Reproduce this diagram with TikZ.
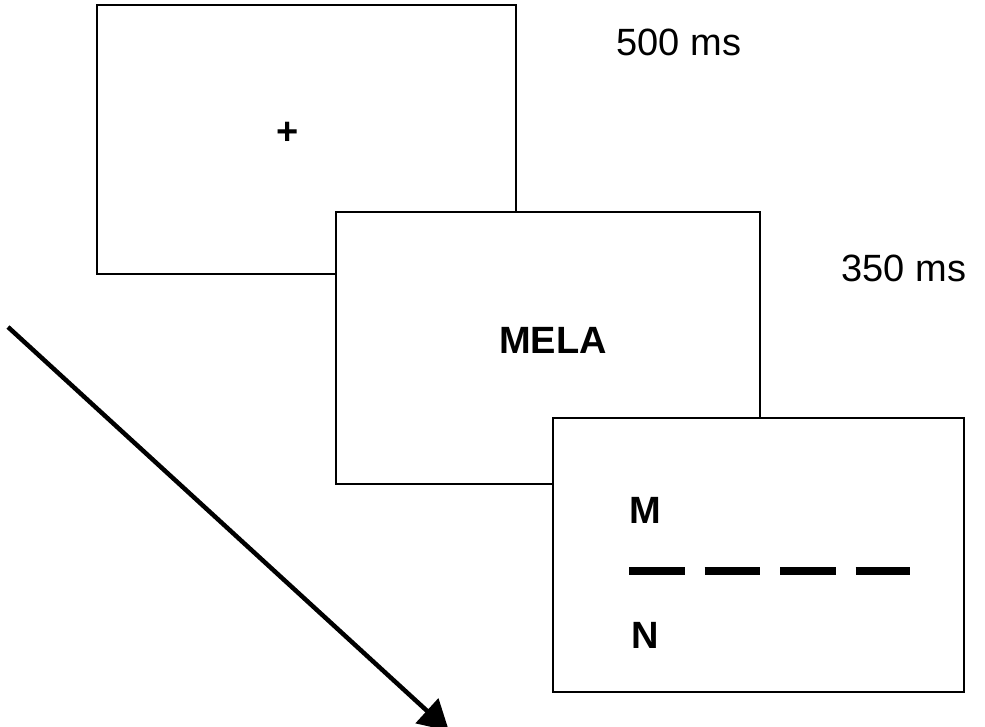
\documentclass[tikz,border=0pt]{standalone}
\usepackage{fontspec}
\setmainfont{Liberation Sans}
\usetikzlibrary{arrows.meta}
\tikzset{%
  screen/.style={draw=black, fill=white, line width=2.2pt, inner sep=0pt},
  label/.style={font=\fontsize{38}{40}\selectfont, inner sep=0pt},
  boldlabel/.style={font=\fontsize{38}{40}\selectfont\bfseries, inner sep=0pt},
  timeline/.style={-{Triangle[length=30pt,width=33pt]}, line width=4.5pt}
}
\begin{document}
\begin{tikzpicture}[x=1pt,y=-1pt]
  \useasboundingbox (0,0) rectangle (985,727);
  \node[screen, minimum width=419pt, minimum height=269pt] (fix) at (306.5,139.5) {};
  \node[boldlabel] (cross) at (288,133) {+};
  \node[label] (t1) at (679,42) {500 ms};

  \node[screen, minimum width=424pt, minimum height=272pt] (word) at (548,348) {};
  \node[boldlabel] (mela) at (553,340) {MELA};
  \node[label] (t2) at (904,268) {350 ms};

  \node[screen, minimum width=411pt, minimum height=274pt] (probe) at (758.5,555) {};
  \node[boldlabel] (m) at (645,510) {M};
  \node[boldlabel] (n) at (645,635) {N};
  \coordinate (dashL) at (629,571);
  \coordinate (dashR) at (910,571);
  \draw[line width=8pt, dash pattern=on 55.5pt off 20pt] (dashL) -- (dashR);

  \coordinate (arrowStart) at (8,327);
  \coordinate (arrowEnd) at (449,731);
  \draw[timeline] (arrowStart) -- (arrowEnd);
\end{tikzpicture}
\end{document}
